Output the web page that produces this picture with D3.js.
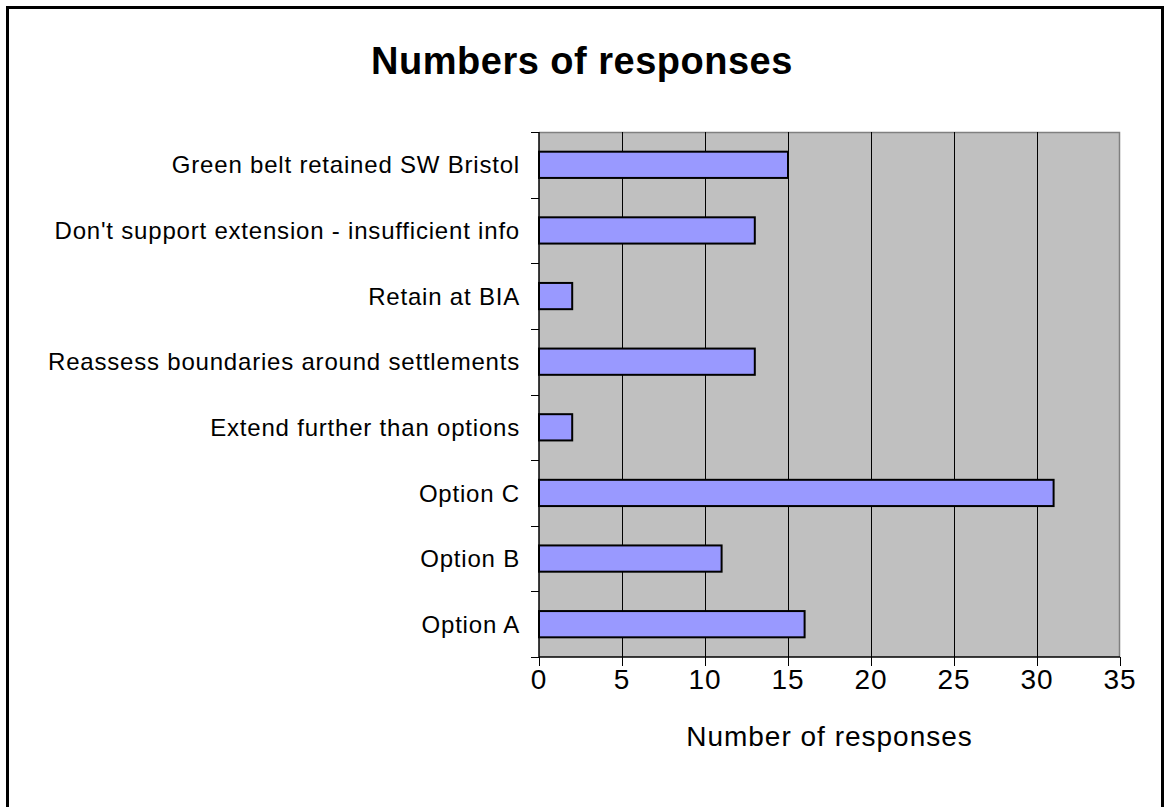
<!DOCTYPE html>
<html><head><meta charset="utf-8">
<script src="https://cdn.jsdelivr.net/npm/d3@7"></script>
<style>body{margin:0;background:#fff}svg{display:block}text{font-family:"Liberation Sans",Arial,sans-serif}</style>
</head><body>
<svg id="c" width="1165" height="807"></svg>
<script>
const categories = ["Green belt retained SW Bristol","Don't support extension - insufficient info","Retain at BIA","Reassess boundaries around settlements","Extend further than options","Option C","Option B","Option A"];
const values = [15,13,2,13,2,31,11,16];
const xTicks = [0,5,10,15,20,25,30,35];
const title = "Numbers of responses";
const xTitle = "Number of responses";

const svg = d3.select("#c");
const m = {left:539, right:1120, top:132, bottom:657};
svg.append("rect").attr("x",0).attr("y",0).attr("width",1165).attr("height",807).attr("fill","#fff");
svg.append("rect").attr("x",7.5).attr("y",7.5).attr("width",1155).attr("height",830)
  .attr("fill","none").attr("stroke","#000").attr("stroke-width",3);

const x = d3.scaleLinear().domain([0,35]).range([m.left,m.right]);
const y = d3.scaleBand().domain(categories).range([m.top,m.bottom]).paddingInner(0.6).paddingOuter(0.3);
const yb = d3.scaleBand().domain(categories).range([m.top,m.bottom]);

// plot area
svg.append("rect").attr("x",m.left).attr("y",m.top).attr("width",m.right-m.left).attr("height",m.bottom-m.top).attr("fill","#c0c0c0");
svg.append("path").attr("d",`M${m.left},${m.top+0.5}H${m.right-0.5}V${m.bottom}`).attr("fill","none").attr("stroke","#808080").attr("stroke-width",1.5);
// gridlines
svg.append("g").selectAll("line").data(xTicks.filter(t=>t>0&&t<35)).join("line")
  .attr("x1",d=>Math.round(x(d))+0.5).attr("x2",d=>Math.round(x(d))+0.5)
  .attr("y1",m.top).attr("y2",m.bottom).attr("stroke","#000").attr("stroke-width",1);

// bars
svg.append("g").selectAll("rect").data(categories).join("rect")
  .attr("x",x(0)).attr("y",(d)=>y(d)).attr("width",(d,i)=>x(values[i])-x(0)).attr("height",y.bandwidth())
  .attr("fill","#9999ff").attr("stroke","#000").attr("stroke-width",2);

// y axis
const gy = svg.append("g").attr("transform",`translate(${m.left},0)`);
gy.append("line").attr("x1",0).attr("x2",0).attr("y1",m.top).attr("y2",m.bottom).attr("stroke","#000").attr("stroke-width",1.5);
const bounds = categories.map(c=>yb(c)).concat([m.bottom]);
gy.selectAll("line.t").data(bounds).join("line").attr("class","t")
  .attr("x1",-8).attr("x2",0).attr("y1",d=>Math.round(d)+0.5).attr("y2",d=>Math.round(d)+0.5).attr("stroke","#000");
gy.selectAll("text").data(categories).join("text")
  .attr("x",-19).attr("y",d=>yb(d)+yb.bandwidth()/2).attr("dy","0.36em")
  .attr("text-anchor","end").attr("font-size",24).attr("letter-spacing",0.8).text(d=>d);

// x axis
const gx = svg.append("g").attr("transform",`translate(0,${m.bottom})`);
gx.append("line").attr("x1",m.left).attr("x2",m.right).attr("y1",0).attr("y2",0).attr("stroke","#000").attr("stroke-width",1.5);
gx.selectAll("line.t").data(xTicks).join("line").attr("class","t")
  .attr("x1",d=>Math.round(x(d))+0.5).attr("x2",d=>Math.round(x(d))+0.5).attr("y1",0).attr("y2",9).attr("stroke","#000");
gx.selectAll("text").data(xTicks).join("text")
  .attr("x",d=>x(d)).attr("y",32).attr("text-anchor","middle").attr("font-size",28).attr("letter-spacing",1).text(d=>d);

svg.append("text").attr("x",(m.left+m.right)/2).attr("y",746).attr("text-anchor","middle").attr("font-size",28).attr("letter-spacing",1).text(xTitle);
svg.append("text").attr("x",582).attr("y",74).attr("text-anchor","middle").attr("font-size",38).attr("letter-spacing",0.5).attr("font-weight","bold").text(title);
</script>
</body></html>
